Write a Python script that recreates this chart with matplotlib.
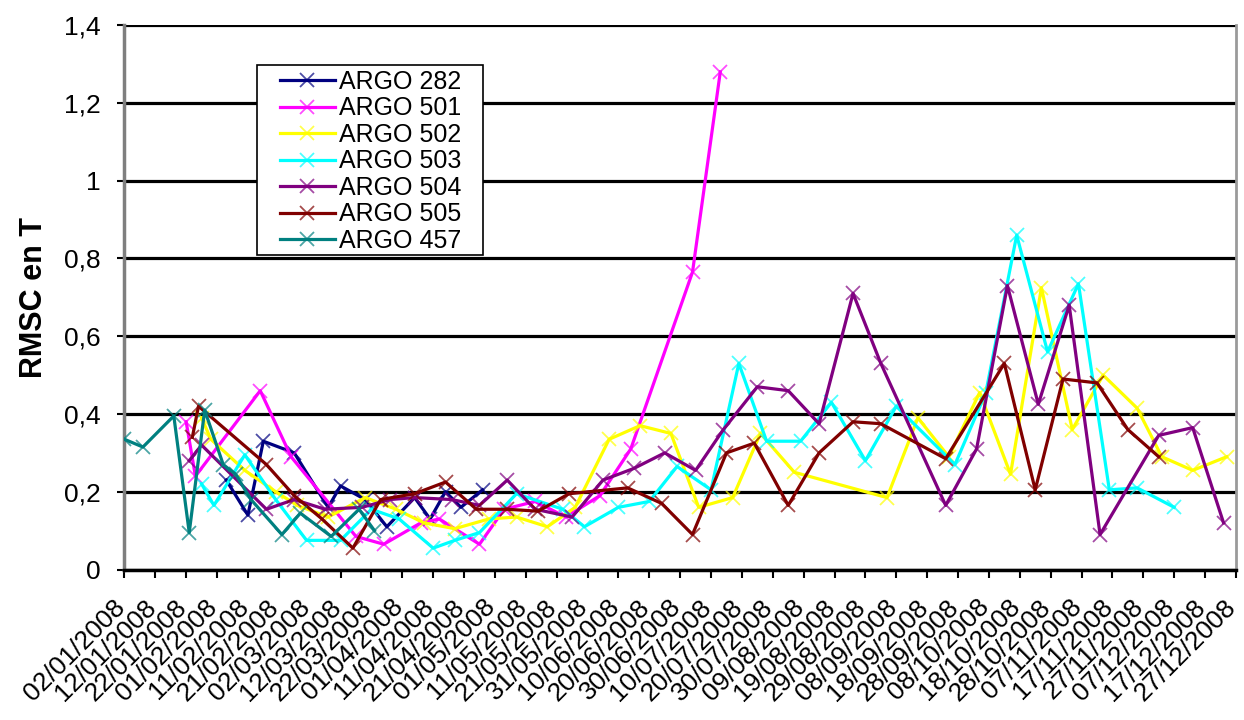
import matplotlib
matplotlib.use("Agg")
import matplotlib.pyplot as plt
import matplotlib.dates as mdates
import matplotlib.transforms as mtransforms
from matplotlib.patches import Rectangle
from matplotlib.ticker import FuncFormatter, MultipleLocator
import pandas as pd

plt.rcParams['font.family'] = ['Liberation Sans', 'DejaVu Sans']

# RMSC en T par flotteur ARGO, 2008
dates_282 = ["2008-02-04", "2008-02-11", "2008-02-16", "2008-02-26", "2008-03-08", "2008-03-12",
             "2008-03-20", "2008-03-27", "2008-04-05", "2008-04-10", "2008-04-15", "2008-04-20",
             "2008-04-27"]
rmsc_282 = [0.23, 0.14, 0.33, 0.30, 0.16, 0.215, 0.18, 0.11, 0.185, 0.13, 0.20, 0.16, 0.205]

dates_501 = ["2008-01-22", "2008-01-25", "2008-02-15", "2008-02-25", "2008-03-17", "2008-03-26",
             "2008-04-07", "2008-04-13", "2008-04-26", "2008-05-04", "2008-05-14", "2008-05-24",
             "2008-06-04", "2008-06-14", "2008-07-04", "2008-07-13"]
rmsc_501 = [0.38, 0.24, 0.46, 0.29, 0.085, 0.065, 0.12, 0.13, 0.065, 0.155, 0.175, 0.135,
            0.19, 0.31, 0.765, 1.28]

dates_502 = ["2008-01-27", "2008-01-30", "2008-02-10", "2008-02-20", "2008-02-27", "2008-03-08",
             "2008-03-20", "2008-03-30", "2008-04-08", "2008-04-18", "2008-04-29", "2008-05-08",
             "2008-05-18", "2008-05-27", "2008-06-07", "2008-06-17", "2008-06-27", "2008-07-06",
             "2008-07-17", "2008-07-26", "2008-08-06", "2008-09-05", "2008-09-15", "2008-09-25",
             "2008-10-05", "2008-10-15", "2008-10-25", "2008-11-04", "2008-11-14", "2008-11-25",
             "2008-12-03", "2008-12-13", "2008-12-24"]
rmsc_502 = [0.39, 0.335, 0.255, 0.20, 0.165, 0.135, 0.185, 0.155, 0.12, 0.105, 0.13, 0.135,
            0.11, 0.16, 0.335, 0.37, 0.35, 0.16, 0.185, 0.35, 0.25, 0.185, 0.39, 0.29,
            0.455, 0.245, 0.725, 0.36, 0.50, 0.415, 0.29, 0.255, 0.29]

dates_503 = ["2008-01-27", "2008-01-31", "2008-02-10", "2008-02-20", "2008-03-01", "2008-03-12",
             "2008-03-22", "2008-03-31", "2008-04-11", "2008-04-18", "2008-04-26", "2008-05-08",
             "2008-05-23", "2008-05-30", "2008-06-10", "2008-06-20", "2008-06-29", "2008-07-10",
             "2008-07-19", "2008-07-28", "2008-08-08", "2008-08-18", "2008-08-29", "2008-09-08",
             "2008-09-27", "2008-10-07", "2008-10-17", "2008-10-27", "2008-11-06", "2008-11-16",
             "2008-11-25", "2008-12-07"]
rmsc_503 = [0.22, 0.165, 0.295, 0.18, 0.075, 0.075, 0.155, 0.13, 0.055, 0.075, 0.095, 0.195,
            0.155, 0.11, 0.16, 0.175, 0.265, 0.205, 0.53, 0.33, 0.33, 0.43, 0.28, 0.42,
            0.27, 0.455, 0.86, 0.56, 0.735, 0.205, 0.21, 0.16]

dates_504 = ["2008-01-23", "2008-01-27", "2008-02-17", "2008-02-26", "2008-03-07", "2008-03-19",
             "2008-03-28", "2008-04-05", "2008-04-17", "2008-04-26", "2008-05-05", "2008-05-14",
             "2008-05-26", "2008-06-05", "2008-06-15", "2008-06-25", "2008-07-05", "2008-07-14",
             "2008-07-25", "2008-08-04", "2008-08-14", "2008-08-25", "2008-09-03", "2008-09-24",
             "2008-10-04", "2008-10-14", "2008-10-24", "2008-11-03", "2008-11-13", "2008-12-02",
             "2008-12-13", "2008-12-23"]
rmsc_504 = [0.28, 0.32, 0.155, 0.18, 0.155, 0.16, 0.18, 0.185, 0.18, 0.165, 0.23, 0.155,
            0.135, 0.23, 0.26, 0.30, 0.255, 0.36, 0.47, 0.46, 0.375, 0.71, 0.53, 0.165,
            0.31, 0.73, 0.425, 0.68, 0.09, 0.345, 0.365, 0.12]

dates_505 = ["2008-01-24", "2008-01-26", "2008-02-17", "2008-02-26", "2008-03-06", "2008-03-16",
             "2008-03-25", "2008-04-05", "2008-04-15", "2008-04-25", "2008-05-05", "2008-05-15",
             "2008-05-25", "2008-06-13", "2008-06-24", "2008-07-04", "2008-07-15", "2008-07-24",
             "2008-08-04", "2008-08-14", "2008-08-25", "2008-09-03", "2008-09-24", "2008-10-13",
             "2008-10-23", "2008-11-01", "2008-11-12", "2008-11-22", "2008-12-02"]
rmsc_505 = [0.34, 0.42, 0.27, 0.19, 0.13, 0.055, 0.18, 0.195, 0.225, 0.155, 0.155, 0.15,
            0.195, 0.21, 0.17, 0.09, 0.30, 0.325, 0.165, 0.30, 0.38, 0.375, 0.285, 0.53,
            0.205, 0.49, 0.48, 0.36, 0.29]

dates_457 = ["2008-01-02", "2008-01-08", "2008-01-18", "2008-01-23", "2008-01-28", "2008-02-03",
             "2008-02-07", "2008-02-12", "2008-02-22", "2008-02-28", "2008-03-09", "2008-03-18",
             "2008-03-23"]
rmsc_457 = [0.335, 0.315, 0.395, 0.095, 0.41, 0.27, 0.245, 0.18, 0.09, 0.145, 0.085, 0.155, 0.10]

series = [
    ("ARGO 282", dates_282, rmsc_282, "#000080"),
    ("ARGO 501", dates_501, rmsc_501, "#FF00FF"),
    ("ARGO 502", dates_502, rmsc_502, "#FFFF00"),
    ("ARGO 503", dates_503, rmsc_503, "#00FFFF"),
    ("ARGO 504", dates_504, rmsc_504, "#800080"),
    ("ARGO 505", dates_505, rmsc_505, "#800000"),
    ("ARGO 457", dates_457, rmsc_457, "#008080"),
]

tick_dates = pd.date_range("2008-01-02", "2008-12-27", freq="10D")

fig = plt.figure(figsize=(12.44, 7.2), dpi=100)
ax = fig.add_axes([0.1, 0.209, 0.8935, 0.756])

for label, d, v, col in series:
    rgba = matplotlib.colors.to_rgba(col, 0.7)
    ax.plot(pd.to_datetime(d), v, color=col, lw=2.3, marker="x", markersize=10,
            markeredgewidth=1.3, markeredgecolor=rgba, label=label, zorder=3)

ax.set_xlim(tick_dates[0], tick_dates[-1])
ax.set_ylim(0, 1.4)
ax.yaxis.set_major_locator(MultipleLocator(0.2))
ax.yaxis.set_major_formatter(FuncFormatter(
    lambda y, _: "0" if abs(y) < 1e-9 else (f"{y:.1f}".rstrip("0").rstrip(".").replace(".", ","))))
ax.set_xticks(tick_dates)
ax.xaxis.set_major_formatter(mdates.DateFormatter("%d/%m/%Y"))

ax.grid(axis="y", color="black", lw=2.3, zorder=1)
ax.set_axisbelow(True)

ax.tick_params(axis="x", direction="out", length=6, width=1.5, pad=17, labelsize=19)
ax.tick_params(axis="y", direction="out", length=5, width=1.5, pad=12, labelsize=19)

# date labels: end of each label sits just at its tick
nudge = mtransforms.ScaledTranslation(-5 / 100, 0, fig.dpi_scale_trans)
for lab in ax.get_xticklabels():
    lab.set_rotation(45)
    lab.set_ha("right")
    lab.set_va("center_baseline")
    lab.set_rotation_mode("anchor")
    lab.set_transform(lab.get_transform() + nudge)

ax.spines["top"].set_visible(False)
ax.spines["left"].set_color("#7f7f7f")
ax.spines["left"].set_linewidth(2.5)
ax.spines["right"].set_color("#9a9a9a")
ax.spines["right"].set_linewidth(2)
ax.spines["bottom"].set_color("black")
ax.spines["bottom"].set_linewidth(2.5)

ax.set_ylabel("RMSC en T", fontsize=22, fontweight="bold")
ax.yaxis.set_label_coords(-0.068, 0.5)

# legend box with a wide inner margin
ax.add_patch(Rectangle((0.1192, 0.5776), 0.2033, 0.349, transform=ax.transAxes,
                       facecolor="white", edgecolor="black", lw=1.2, zorder=4))
leg = ax.legend(loc="upper left", bbox_to_anchor=(0.1399, 0.918), fontsize=18,
                frameon=False, handlelength=2.2, handletextpad=0.16, borderpad=0,
                labelspacing=0.1, borderaxespad=0)
leg.set_zorder(5)

fig.savefig("out.png", dpi=100)
